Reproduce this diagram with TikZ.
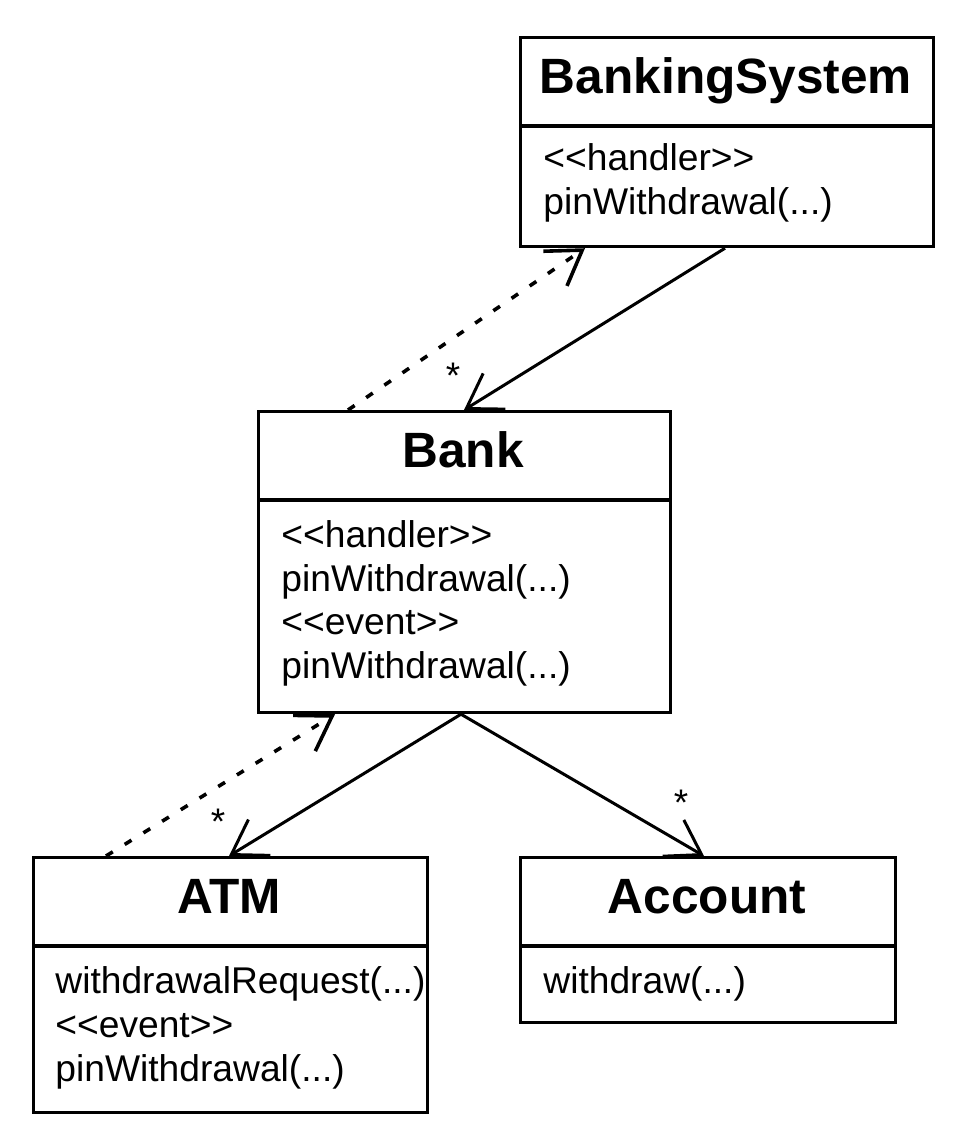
\documentclass[tikz,border=0pt]{standalone}
\usepackage{fontspec}
\setmainfont{Liberation Sans}
\usetikzlibrary{arrows.meta}

\newcommand\sterotag[1]{<\kern0pt<#1>\kern0pt>}
\newcommand\oparg{(...)}

\tikzset{
  classbox/.style={draw, line width=1.6pt, rectangle, anchor=north west, inner sep=0pt},
  classtitle/.style={font=\bfseries\fontsize{24.8}{29}\selectfont, anchor=base, inner sep=0pt},
  classbody/.style={font=\fontsize{18.6}{22}\selectfont, anchor=base west, inner sep=0pt},
  mult/.style={font=\fontsize{18.5}{22}\selectfont, inner sep=0pt},
  assoc/.style={line width=1.5pt, -{Straight Barb[length=16.4pt,width=21pt]}},
  dep/.style={assoc, line width=1.8pt, dash pattern=on 4pt off 7pt}
}

\begin{document}
\begin{tikzpicture}[x=0.5pt, y=-0.5pt]
      \useasboundingbox (0,0) rectangle (969,1148);

      % Class boxes
      \node[classbox, minimum width=206.5pt, minimum height=104.5pt] (bs) at (519,36) {};
      \node[classbox, minimum width=206pt, minimum height=150.5pt] (bank) at (257,410) {};
      \node[classbox, minimum width=197pt, minimum height=127.5pt] (atm) at (32,856) {};
      \node[classbox, minimum width=187.5pt, minimum height=82.5pt] (acc) at (519,856) {};

      % Header dividers
      \foreach \c in {bs, bank, atm, acc}{
          \draw[line width=1.6pt] ([yshift=-45pt]\c.north west) -- ([yshift=-45pt]\c.north east);
        }

      % Class names
      \node[classtitle] (bs-name) at (726,93) {BankingSystem};
      \node[classtitle] (bank-name) at (463,467) {Bank};
      \node[classtitle] (atm-name) at (229,913) {ATM};
      \node[classtitle] (acc-name) at (707,913) {Account};

      % Operations
      \foreach \t [count=\i] in {\sterotag{handler}, pinWithdrawal\oparg}{
          \node[classbody] (bs-op\i) at (543,126+44*\i) {\t};
        }
      \foreach \t [count=\i] in {\sterotag{handler}, pinWithdrawal\oparg, \sterotag{event}, pinWithdrawal\oparg}{
          \node[classbody] (bank-op\i) at (281,504+43.5*\i) {\t};
        }
      \foreach \t [count=\i] in {withdrawalRequest\oparg, \sterotag{event}, pinWithdrawal\oparg}{
          \node[classbody] (atm-op\i) at (55,949+44*\i) {\t};
        }
      \node[classbody] (acc-op1) at (543,993) {withdraw\oparg};

      % Associations
      \draw[assoc] ([xshift=103pt]bs.south west) -- ([xshift=103.5pt]bank.north west);
      \draw[assoc] ([xshift=102pt]bank.south west) -- ([xshift=98.5pt]atm.north west);
      \draw[assoc] ([xshift=102pt]bank.south west) -- ([xshift=92.5pt]acc.north west);

      % Dependencies
      \draw[dep] ([xshift=45.5pt]bank.north west) -- ([xshift=33pt]bs.south west);
      \draw[dep] ([xshift=37pt]atm.north west) -- ([xshift=39pt]bank.south west);

      % Multiplicities
      \node[mult] (bank-mult) at (453,376) {*};
      \node[mult] (atm-mult) at (218,822) {*};
      \node[mult] (acc-mult) at (681,803) {*};

    \end{tikzpicture}
\end{document}
